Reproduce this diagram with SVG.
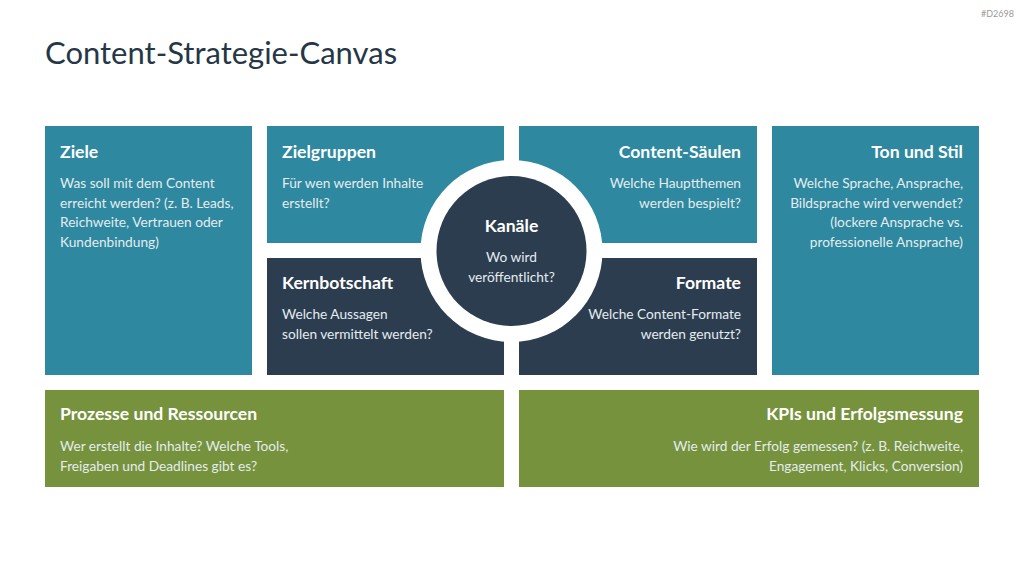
<svg xmlns="http://www.w3.org/2000/svg" width="1024" height="576" viewBox="0 0 1024 576">
<style>
.teal{fill:#2E889F}
.dark{fill:#2C3D50}
.green{fill:#76923C}
text{font-family:Lato,"Open Sans",sans-serif}
.h{font-size:17.6px;font-weight:bold;fill:#fff}
.b{font-size:13.7px;fill:#E4ECEF}
.r{text-anchor:end}
.c{text-anchor:middle}
</style>
<rect width="1024" height="576" fill="#fff"/>
<text x="1014" y="17" font-size="9" fill="#9a9a9a" text-anchor="end">#D2698</text>
<text x="45" y="64" font-size="31" fill="#253746">Content-Strategie-Canvas</text>
<g id="ziele">
<rect class="teal" x="45" y="126" width="207" height="249"/>
<text class="h" x="60" y="158">Ziele</text>
<text class="b" x="60" y="188">Was soll mit dem Content</text>
<text class="b" x="60" y="208">erreicht werden? (z. B. Leads,</text>
<text class="b" x="60" y="227">Reichweite, Vertrauen oder</text>
<text class="b" x="60" y="247">Kundenbindung)</text>
</g>
<g id="zielgruppen">
<rect class="teal" x="267" y="126" width="237" height="117"/>
<text class="h" x="282" y="158">Zielgruppen</text>
<text class="b" x="282" y="188">Für wen werden Inhalte</text>
<text class="b" x="282" y="208">erstellt?</text>
</g>
<g id="saeulen">
<rect class="teal" x="519" y="126" width="238" height="117"/>
<text class="h r" x="741" y="158">Content-Säulen</text>
<text class="b r" x="741" y="188">Welche Hauptthemen</text>
<text class="b r" x="741" y="208">werden bespielt?</text>
</g>
<g id="ton">
<rect class="teal" x="772" y="126" width="207" height="249"/>
<text class="h r" x="963" y="158">Ton und Stil</text>
<text class="b r" x="963" y="188">Welche Sprache, Ansprache,</text>
<text class="b r" x="963" y="208">Bildsprache wird verwendet?</text>
<text class="b r" x="963" y="227">(lockere Ansprache vs.</text>
<text class="b r" x="963" y="247">professionelle Ansprache)</text>
</g>
<g id="kern">
<rect class="dark" x="267" y="258" width="237" height="117"/>
<text class="h" x="282" y="289">Kernbotschaft</text>
<text class="b" x="282" y="319">Welche Aussagen</text>
<text class="b" x="282" y="339">sollen vermittelt werden?</text>
</g>
<g id="formate">
<rect class="dark" x="519" y="258" width="238" height="117"/>
<text class="h r" x="741" y="289">Formate</text>
<text class="b r" x="741" y="319">Welche Content-Formate</text>
<text class="b r" x="741" y="339">werden genutzt?</text>
</g>
<g id="kanaele">
<circle cx="511.5" cy="251" r="91" fill="#fff"/>
<circle class="dark" cx="511.5" cy="251" r="75"/>
<text class="h c" x="511.5" y="232">Kanäle</text>
<text class="b c" x="511.5" y="262">Wo wird</text>
<text class="b c" x="511.5" y="282">veröffentlicht?</text>
</g>
<g id="prozesse">
<rect class="green" x="45" y="390" width="459" height="97"/>
<text class="h" x="60" y="420">Prozesse und Ressourcen</text>
<text class="b" x="60" y="451">Wer erstellt die Inhalte? Welche Tools,</text>
<text class="b" x="60" y="471">Freigaben und Deadlines gibt es?</text>
</g>
<g id="kpis">
<rect class="green" x="519" y="390" width="460" height="97"/>
<text class="h r" x="963" y="420">KPIs und Erfolgsmessung</text>
<text class="b r" x="963" y="451">Wie wird der Erfolg gemessen? (z. B. Reichweite,</text>
<text class="b r" x="963" y="471">Engagement, Klicks, Conversion)</text>
</g>
<g id="connectors"/>
</svg>
